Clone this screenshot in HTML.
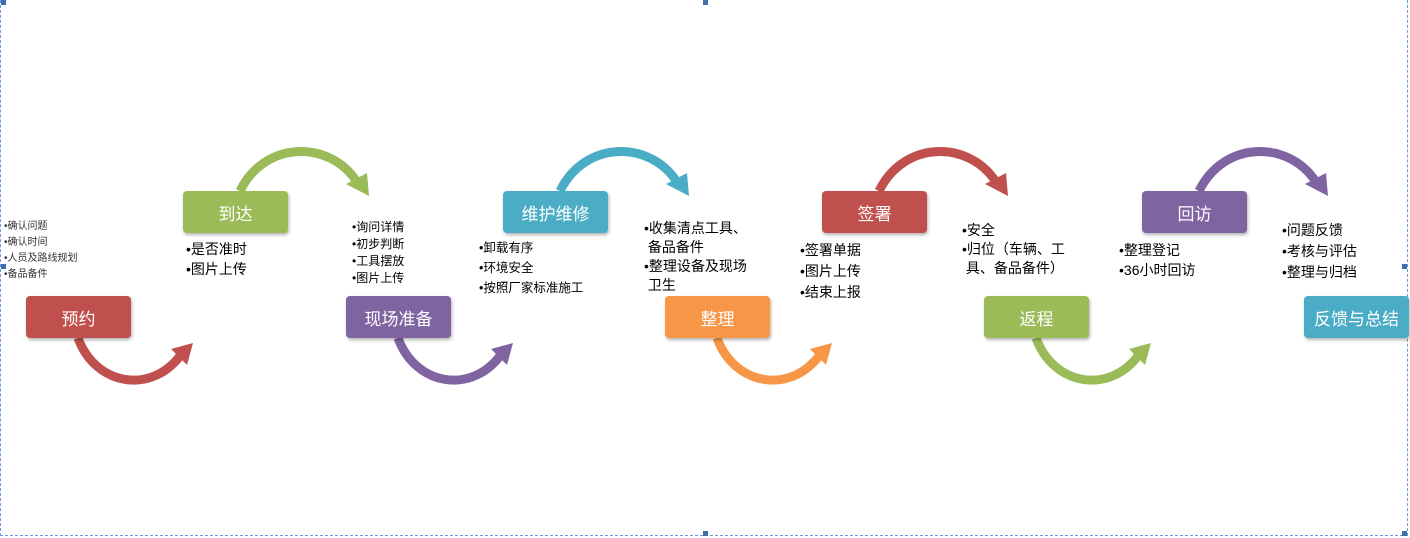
<!DOCTYPE html>
<html><head><meta charset="utf-8"><style>
html,body{margin:0;padding:0;background:#fff;}
body{width:1410px;height:538px;position:relative;overflow:hidden;font-family:"Liberation Sans","Noto Sans CJK SC",sans-serif;}
.b{position:absolute;width:105px;height:42px;border-radius:4px;color:#fff;font-size:17px;display:flex;align-items:center;justify-content:center;box-shadow:1px 2px 3px rgba(0,0,0,.3);}
.t{position:absolute;font-size:14px;line-height:20px;color:#000;white-space:nowrap;}
.h{position:absolute;width:5px;height:5px;background:#3f6ea8;}
</style></head><body>
<div style="position:absolute;left:0;top:0;width:0;height:536px;border-left:1.5px dashed #6a9be0"></div>
<div style="position:absolute;left:1407px;top:0;width:0;height:536px;border-left:1.5px dashed #6a9be0"></div>
<div style="position:absolute;left:0;top:535px;width:1408px;height:0;border-top:1.5px dashed #6a9be0"></div>
<div class="h" style="left:1px;top:0"></div><div class="h" style="left:703px;top:0"></div>
<div class="h" style="left:1px;top:264px"></div><div class="h" style="left:1402px;top:264px"></div>
<div class="h" style="left:703px;top:531px"></div><div class="h" style="left:1402px;top:531px"></div>
<svg width="1410" height="538" style="position:absolute;left:0;top:0">
<defs>
<g id="bot"><path d="M78,338 C95,385 150,395 180,356" fill="none" stroke-width="9"/><polygon points="171,349 193,343 187,365" stroke="none"/></g>
<g id="top"><path d="M240,191 C265,140 330,140 357,182" fill="none" stroke-width="9"/><polygon points="346,184 369,196 367,173" stroke="none"/></g>
</defs>
<use href="#bot" stroke="#c0504d" fill="#c0504d"/>
<use href="#bot" x="320" stroke="#8064a2" fill="#8064a2"/>
<use href="#bot" x="639" stroke="#f79646" fill="#f79646"/>
<use href="#bot" x="958" stroke="#9bbb59" fill="#9bbb59"/>
<use href="#top" stroke="#9bbb59" fill="#9bbb59"/>
<use href="#top" x="320" stroke="#4bacc6" fill="#4bacc6"/>
<use href="#top" x="639" stroke="#c0504d" fill="#c0504d"/>
<use href="#top" x="959" stroke="#8064a2" fill="#8064a2"/>
</svg>
<div class="b" style="left:26px;top:296px;background:#c0504d">预约</div>
<div class="b" style="left:346px;top:296px;background:#8064a2">现场准备</div>
<div class="b" style="left:665px;top:296px;background:#f79646">整理</div>
<div class="b" style="left:984px;top:296px;background:#9bbb59">返程</div>
<div class="b" style="left:1304px;top:296px;background:#4bacc6">反馈与总结</div>
<div class="b" style="left:183px;top:191px;background:#9bbb59">到达</div>
<div class="b" style="left:503px;top:191px;background:#4bacc6">维护维修</div>
<div class="b" style="left:822px;top:191px;background:#c0504d">签署</div>
<div class="b" style="left:1142px;top:191px;background:#8064a2">回访</div>
<div class="t" style="left:4px;top:219px;font-size:10px;line-height:16px;color:#333">•确认问题<br>•确认时间<br>•人员及路线规划<br>•备品备件</div>
<div class="t" style="left:186px;top:239px">•是否准时<br>•图片上传</div>
<div class="t" style="left:352px;top:219px;font-size:12px;line-height:17px">•询问详情<br>•初步判断<br>•工具摆放<br>•图片上传</div>
<div class="t" style="left:479px;top:238px;font-size:12.5px;line-height:20px">•卸载有序<br>•环境安全<br>•按照厂家标准施工</div>
<div class="t" style="left:644px;top:219px;line-height:19px">•收集清点工具、<br>&nbsp;备品备件<br>•整理设备及现场<br>&nbsp;卫生</div>
<div class="t" style="left:800px;top:240px;line-height:21px">•签署单据<br>•图片上传<br>•结束上报</div>
<div class="t" style="left:962px;top:221px;line-height:19px">•安全<br>•归位（车辆、工<br>&nbsp;具、备品备件）</div>
<div class="t" style="left:1119px;top:240px">•整理登记<br>•36小时回访</div>
<div class="t" style="left:1282px;top:220px;line-height:21px">•问题反馈<br>•考核与评估<br>•整理与归档</div>
</body></html>
